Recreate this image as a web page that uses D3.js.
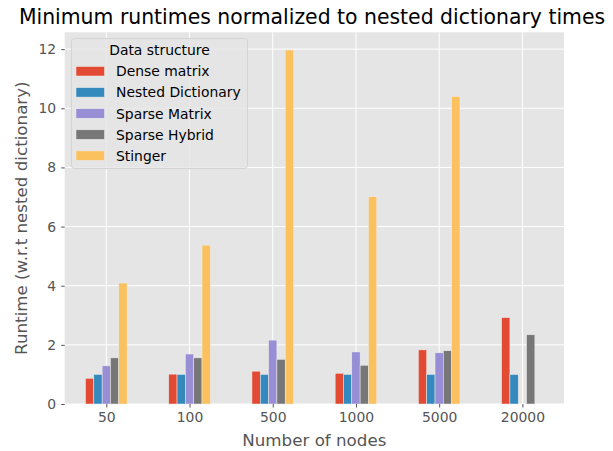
<!DOCTYPE html>
<html>
<head>
<meta charset="utf-8">
<script src="https://cdn.jsdelivr.net/npm/d3@7"></script>
<style>
  body { margin: 0; background: #fff; }
  text { font-family: "DejaVu Sans", sans-serif; }
</style>
</head>
<body>
<div id="chart"></div>
<script>
// chart data
const nodeLabels = ["50", "100", "500", "1000", "5000", "20000"];
const seriesNames = ["Dense matrix", "Nested Dictionary", "Sparse Matrix", "Sparse Hybrid", "Stinger"];
const denseMatrix = [0.87, 1.01, 1.11, 1.04, 1.83, 2.92];
const nestedDict = [1.0, 1.0, 1.0, 1.0, 1.0, 1.0];
const sparseMatrix = [1.29, 1.69, 2.16, 1.76, 1.73, null];
const sparseHybrid = [1.56, 1.56, 1.51, 1.31, 1.80, 2.34];
const stinger = [4.09, 5.37, 11.97, 7.01, 10.40, null];
const yTicks = [0, 2, 4, 6, 8, 10, 12];
const colors = ["#E24A33", "#348ABD", "#988ED5", "#777777", "#FBC15E"];

const allSeries = [denseMatrix, nestedDict, sparseMatrix, sparseHybrid, stinger];

const width = 613, height = 451;
const plot = {left: 64.7, right: 564, top: 32.3, bottom: 404};

const svg = d3.select('#chart')
  .append('svg')
    .attr('width', width)
    .attr('height', height);

const xScale = d3.scaleLinear()
  .domain([-0.5, nodeLabels.length - 0.5])
  .range([plot.left, plot.right]);

const yMax = d3.max(allSeries.flat().filter(v => v != null)) * 1.05;
const yScale = d3.scaleLinear()
  .domain([0, yMax])
  .range([plot.bottom, plot.top]);

// background
svg.append('rect')
  .attr('x', plot.left).attr('y', plot.top)
  .attr('width', plot.right - plot.left)
  .attr('height', plot.bottom - plot.top)
  .attr('fill', '#E5E5E5');

// grid
svg.append('g')
  .selectAll('line')
  .data(yTicks)
  .join('line')
    .attr('x1', plot.left).attr('x2', plot.right)
    .attr('y1', d => yScale(d)).attr('y2', d => yScale(d))
    .attr('stroke', '#fff').attr('stroke-width', 1);

svg.append('g')
  .selectAll('line')
  .data(nodeLabels)
  .join('line')
    .attr('x1', (d, i) => xScale(i)).attr('x2', (d, i) => xScale(i))
    .attr('y1', plot.top).attr('y2', plot.bottom)
    .attr('stroke', '#fff').attr('stroke-width', 1);

// bars
const barW = 0.1;
const rows = [];
allSeries.forEach((s, j) => {
  s.forEach((v, i) => {
    if (v != null) rows.push({i, j, v});
  });
});

svg.append('g')
  .selectAll('rect')
  .data(rows)
  .join('rect')
    .attr('x', d => xScale(d.i + (d.j - 2) * barW - barW / 2))
    .attr('width', xScale(barW) - xScale(0))
    .attr('y', d => yScale(d.v))
    .attr('height', d => yScale(0) - yScale(d.v))
    .attr('fill', d => colors[d.j])
    .attr('stroke', '#EEEEEE')
    .attr('stroke-width', 0.5);

// axes
const xAxis = d3.axisBottom(xScale)
  .tickValues(d3.range(nodeLabels.length))
  .tickFormat(i => nodeLabels[i])
  .tickSize(3.5)
  .tickPadding(5);

const gx = svg.append('g')
  .attr('transform', `translate(0,${plot.bottom})`)
  .call(xAxis);

const yAxis = d3.axisLeft(yScale)
  .tickValues(yTicks)
  .tickSize(3.5)
  .tickPadding(5);

const gy = svg.append('g')
  .attr('transform', `translate(${plot.left},0)`)
  .call(yAxis);

[gx, gy].forEach(g => {
  g.select('.domain').remove();
  g.selectAll('.tick line').attr('stroke', '#555');
  g.selectAll('.tick text')
    .attr('fill', '#555')
    .style('font-size', '13.9px')
    .style('font-family', '"DejaVu Sans", sans-serif');
});

// titles
svg.append('text')
  .attr('x', 312)
  .attr('y', 24)
  .attr('text-anchor', 'middle')
  .style('font-size', '20.4px')
  .attr('fill', '#000')
  .text('Minimum runtimes normalized to nested dictionary times');

svg.append('text')
  .attr('x', (plot.left + plot.right) / 2)
  .attr('y', 446)
  .attr('text-anchor', 'middle')
  .style('font-size', '16.7px')
  .attr('fill', '#555')
  .text('Number of nodes');

svg.append('text')
  .attr('transform', `translate(27,${(plot.top + plot.bottom) / 2}) rotate(-90)`)
  .attr('text-anchor', 'middle')
  .style('font-size', '16.7px')
  .attr('fill', '#555')
  .text('Runtime (w.r.t nested dictionary)');

// legend
const legend = svg.append('g').attr('transform', 'translate(71.5,38.5)');
legend.append('rect')
  .attr('width', 176).attr('height', 130)
  .attr('rx', 3)
  .attr('fill', '#E5E5E5').attr('fill-opacity', 0.8)
  .attr('stroke', '#d4d4d4');

legend.append('text')
  .attr('x', 88).attr('y', 16.5)
  .attr('text-anchor', 'middle')
  .style('font-size', '13.9px')
  .attr('fill', '#000')
  .text('Data structure');

const items = legend.selectAll('g.item')
  .data(seriesNames)
  .join('g')
    .attr('class', 'item')
    .attr('transform', (d, i) => `translate(0,${28 + i * 21.1})`);

items.append('rect')
  .attr('x', 4.5).attr('y', 0)
  .attr('width', 28.5).attr('height', 9.5)
  .attr('fill', (d, i) => colors[i])
  .attr('stroke', '#EEEEEE').attr('stroke-width', 0.5);

items.append('text')
  .attr('x', 44.5).attr('y', 9.8)
  .style('font-size', '13.9px')
  .attr('fill', '#000')
  .text(d => d);
</script>
</body>
</html>
